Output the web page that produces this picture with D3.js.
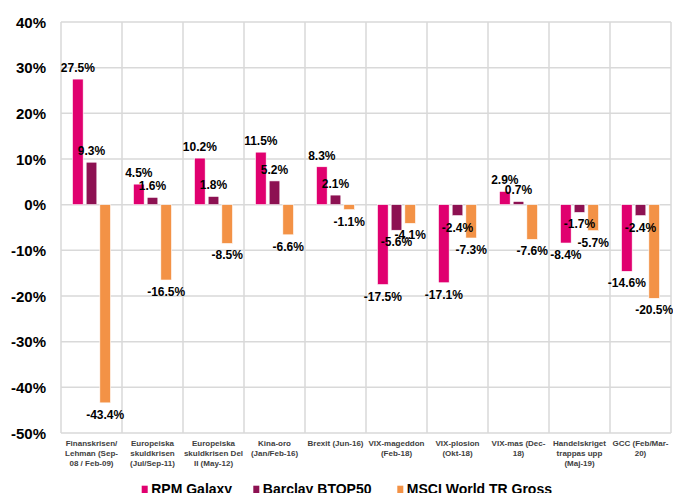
<!DOCTYPE html>
<html>
<head>
<meta charset="utf-8">
<script src="https://cdn.jsdelivr.net/npm/d3@7"></script>
<style>
    body { margin: 0; background: #fff; }
    svg { display: block; font-family: "Liberation Sans", Arial, sans-serif; }
</style>
</head>
<body>
<div id="chart"></div>
<script>
// Crisis periods (axis labels, split per line)
var categories = [
    ["Finanskrisen/", "Lehman (Sep-", "08 / Feb-09)"],
    ["Europeiska", "skuldkrisen", "(Jul/Sep-11)"],
    ["Europeiska", "skuldkrisen Del", "II (May-12)"],
    ["Kina-oro", "(Jan/Feb-16)"],
    ["Brexit (Jun-16)"],
    ["VIX-mageddon", "(Feb-18)"],
    ["VIX-plosion", "(Okt-18)"],
    ["VIX-mas (Dec-", "18)"],
    ["Handelskriget", "trappas upp", "(Maj-19)"],
    ["GCC (Feb/Mar-", "20)"]
];

var seriesNames = ["RPM Galaxy", "Barclay BTOP50", "MSCI World TR Gross"];
var seriesColors = ["#e0006f", "#8d1152", "#f39246"];

var rpmGalaxy = [27.5, 4.5, 10.2, 11.5, 8.3, -17.5, -17.1, 2.9, -8.4, -14.6];
var barclay = [9.3, 1.6, 1.8, 5.2, 2.1, -5.6, -2.4, 0.7, -1.7, -2.4];
var msciWorld = [-43.4, -16.5, -8.5, -6.6, -1.1, -4.1, -7.3, -7.6, -5.7, -20.5];

var yTicks = [40, 30, 20, 10, 0, -10, -20, -30, -40, -50];

function init() {
    var w = 673;
    var h = 493;
    var left = 61, right = 671, top = 22, bottom = 433;

    var svg = d3.select("#chart")
        .append("svg")
        .attr("width", w)
        .attr("height", h);

    var idx = d3.range(categories.length);
    var allSeries = [rpmGalaxy, barclay, msciWorld];

    var xScale = d3.scaleBand()
        .domain(idx)
        .range([left, right])
        .padding(0);

    var x1 = d3.scaleBand()
        .domain([0, 1, 2])
        .range([11.5, 49.5])
        .paddingInner(0.22);

    var yScale = d3.scaleLinear()
        .domain([-50, 40])
        .range([bottom, top]);

    // horizontal grid
    svg.append("g")
        .selectAll("line")
        .data(yTicks)
        .enter()
        .append("line")
        .attr("x1", left)
        .attr("x2", right)
        .attr("y1", d => yScale(d))
        .attr("y2", d => yScale(d))
        .attr("stroke", "#d9d9d9")
        .attr("stroke-width", 1.5);

    // vertical grid at category boundaries
    var bounds = idx.map(i => xScale(i)).concat([right]);
    svg.append("g")
        .selectAll("line")
        .data(bounds)
        .enter()
        .append("line")
        .attr("x1", d => d)
        .attr("x2", d => d)
        .attr("y1", top)
        .attr("y2", bottom)
        .attr("stroke", "#d9d9d9")
        .attr("stroke-width", 1.5);

    // y axis labels
    var yAxis = d3.axisLeft(yScale)
        .tickValues(yTicks)
        .tickSize(0)
        .tickPadding(0)
        .tickFormat(d => d + "%");

    var yg = svg.append("g")
        .attr("transform", `translate(46, 0)`)
        .call(yAxis);
    yg.select(".domain").remove();
    yg.selectAll("text")
        .attr("font-size", "15px")
        .attr("font-weight", "bold")
        .attr("font-family", "Liberation Sans, Arial, sans-serif")
        .attr("fill", "#000")
        .attr("dy", "0.35em");

    // flatten bar data
    var bars = [];
    allSeries.forEach((vals, s) => {
        vals.forEach((v, i) => {
            bars.push({ cat: i, s: s, value: v });
        });
    });

    svg.append("g")
        .selectAll("rect")
        .data(bars)
        .enter()
        .append("rect")
        .attr("x", d => xScale(d.cat) + x1(d.s))
        .attr("width", x1.bandwidth())
        .attr("y", d => yScale(Math.max(0, d.value)))
        .attr("height", d => Math.abs(yScale(d.value) - yScale(0)))
        .attr("fill", d => seriesColors[d.s])
        .attr("stroke", "#fff")
        .attr("stroke-width", 0.6);

    // value labels
    svg.append("g")
        .selectAll("text")
        .data(bars)
        .enter()
        .append("text")
        .attr("x", d => xScale(d.cat) + x1(d.s) + x1.bandwidth() / 2)
        .attr("y", d => d.value >= 0 ? yScale(d.value) - 7 : yScale(d.value) + 16)
        .attr("text-anchor", "middle")
        .attr("font-size", "12px")
        .attr("font-weight", "bold")
        .attr("fill", "#000")
        .text(d => d.value.toFixed(1) + "%");

    // category labels
    var catG = svg.append("g")
        .selectAll("text")
        .data(categories)
        .enter()
        .append("text")
        .attr("x", (d, i) => xScale(i) + xScale.bandwidth() / 2)
        .attr("y", 445.5)
        .attr("text-anchor", "middle")
        .attr("font-size", "8px")
        .attr("font-weight", "bold")
        .attr("fill", "#404040");

    catG.selectAll("tspan")
        .data(d => d)
        .enter()
        .append("tspan")
        .attr("x", function () { return d3.select(this.parentNode).attr("x"); })
        .attr("dy", (d, j) => j === 0 ? 0 : 10)
        .text(d => d);

    // legend
    var legendX = [141.7, 253.3, 397.3];
    var legend = svg.append("g")
        .selectAll("g")
        .data(seriesNames)
        .enter()
        .append("g")
        .attr("transform", (d, i) => `translate(${legendX[i]}, 0)`);

    legend.append("rect")
        .attr("x", 0)
        .attr("y", 485.7)
        .attr("width", 6)
        .attr("height", 8)
        .attr("fill", (d, i) => seriesColors[i]);

    legend.append("text")
        .attr("x", 9.5)
        .attr("y", 493.5)
        .attr("font-size", "14px")
        .attr("font-weight", "bold")
        .attr("fill", "#000")
        .text(d => d);
}

window.onload = init;
</script>
</body>
</html>
